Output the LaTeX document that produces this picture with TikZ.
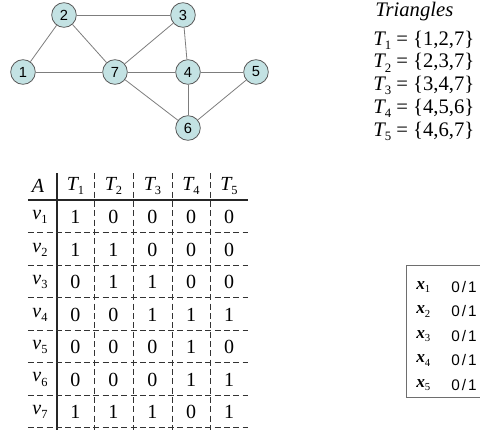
\documentclass[tikz,border=0pt]{standalone}
\usepackage{fontspec}
\setmainfont{Liberation Serif}
\newfontfamily\gsans{Liberation Sans}
\definecolor{nodefill}{RGB}{195,226,227}
\definecolor{nodeedge}{RGB}{90,90,90}
\definecolor{edgegray}{RGB}{125,125,125}
\definecolor{boxgray}{RGB}{110,110,110}
\newcommand\mysub[1]{\raisebox{-0.45ex}{\scalebox{0.62}{#1}}}
\begin{document}
\begin{tikzpicture}[x=0.75pt,y=-0.75pt,
  gnode/.style={circle,draw=nodeedge,fill=nodefill,line width=0.6pt,minimum size=18.5pt,inner sep=0pt,font=\gsans\fontsize{11}{11}\selectfont},
  gedge/.style={draw=edgegray,line width=0.6pt},
  tcell/.style={inner sep=0pt,font=\fontsize{15}{15}\selectfont},
  tri/.style={anchor=west,inner sep=0pt,font=\fontsize{15.5}{15.5}\selectfont},
  xlab/.style={anchor=west,inner sep=0pt,font=\fontsize{13}{13}\selectfont},
  vlab/.style={anchor=west,inner sep=0pt,font=\gsans\fontsize{11.5}{11.5}\selectfont},
  solidline/.style={draw=black!85,line width=0.9pt},
  dashline/.style={draw=black!80,line width=0.6pt,dash pattern=on 4.5pt off 2.5pt},
  boxline/.style={draw=boxgray,line width=0.7pt}]
\useasboundingbox (0,0) rectangle (480,430);
% graph
\node[gnode] (n1) at (23,72) {1};
\node[gnode] (n2) at (64,15) {2};
\node[gnode] (n3) at (183,15) {3};
\node[gnode] (n7) at (115,72) {7};
\node[gnode] (n4) at (188,72) {4};
\node[gnode] (n5) at (256,72) {5};
\node[gnode] (n6) at (188,128) {6};
\foreach \a/\b in {n1/n2,n1/n7,n2/n3,n2/n7,n3/n7,n3/n4,n7/n4,n4/n5,n7/n6,n4/n6,n5/n6}
  \draw[gedge] (\a) -- (\b);
% triangles
\node[tri] (trititle) at (375,12) {\itshape Triangles};
\foreach \i/\s in {1/{1,2,7},2/{2,3,7},3/{3,4,7},4/{4,5,6},5/{4,6,7}}
  \node[tri] (tri\i) at (373,{40+22.8*(\i-1)}) {{\itshape T}\mysub{\i} = \{\s\}};
% table lines
\coordinate (tl) at (28,200);
\coordinate (tr) at (248,200);
\coordinate (vt) at (57,173);
\coordinate (vb) at (57,430);
\draw[solidline] (tl) -- (tr);
\draw[solidline] (vt) -- (vb);
\foreach \x [count=\k] in {94,133,172,210} {
  \coordinate (dt\k) at (\x,173);
  \coordinate (db\k) at (\x,430);
  \draw[dashline] (dt\k) -- (db\k);
}
\foreach \k in {1,...,7} {
  \coordinate (hl\k) at (28,{232.5+32.5*(\k-1)});
  \coordinate (hr\k) at (248,{232.5+32.5*(\k-1)});
  \draw[dashline] (hl\k) -- (hr\k);
}
% table header
\node[tcell] (hA) at (38,186) {\itshape A};
\foreach \x [count=\c] in {75.5,113.5,152.5,191,229}
  \node[tcell] (hT\c) at (\x,186) {{\itshape T}\mysub{\c}};
% table rows
\foreach \row [count=\r] in {{1,0,0,0,0},{1,1,0,0,0},{0,1,1,0,0},{0,0,1,1,1},{0,0,0,1,0},{0,0,0,1,1},{1,1,1,0,1}} {
  \node[tcell] (v\r) at (40,{217+32.5*(\r-1)}) {{\itshape v}\mysub{\r}};
  \foreach \val [count=\c] in \row {
    \pgfmathsetmacro\xx{{75.5,113.5,152.5,191,229}[\c-1]}
    \node[tcell] (c\r-\c) at (\xx,{217+32.5*(\r-1)}) {\val};
  }
}
% variable box
\draw[boxline] (406,265) rectangle (492,397);
\foreach \i in {1,...,5} {
  \node[xlab] (x\i) at (416,{287+24.5*(\i-1)}) {{\bfseries\itshape x}\mysub{\i}};
  \node[vlab] (b\i) at (451,{287+24.5*(\i-1)}) {0\hspace{1.5pt}/\hspace{1.5pt}1};
}
\end{tikzpicture}
\end{document}
